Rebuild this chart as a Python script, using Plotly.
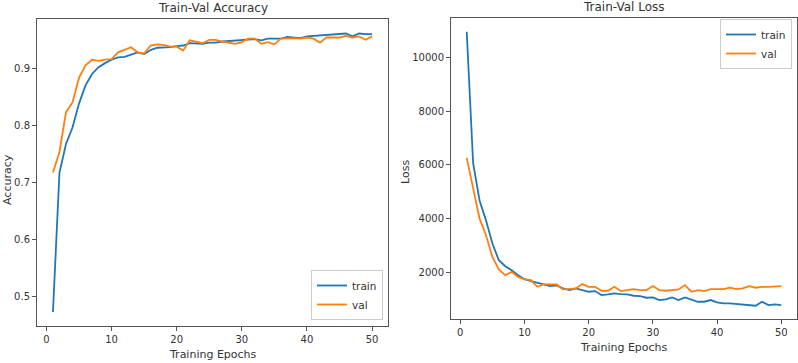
import plotly.graph_objects as go

epochs = list(range(1, 51))

train_acc = [0.472, 0.717, 0.767, 0.796, 0.838, 0.870, 0.890, 0.902, 0.909, 0.915,
             0.919, 0.920, 0.924, 0.928, 0.925, 0.932, 0.936, 0.936, 0.937, 0.939,
             0.940, 0.944, 0.944, 0.943, 0.945, 0.945, 0.947, 0.948, 0.949, 0.949,
             0.951, 0.951, 0.949, 0.952, 0.952, 0.952, 0.955, 0.954, 0.953, 0.956,
             0.957, 0.958, 0.958, 0.959, 0.960, 0.961, 0.956, 0.961, 0.960, 0.960]
val_acc = [0.717, 0.753, 0.823, 0.840, 0.883, 0.905, 0.915, 0.913, 0.915, 0.916,
           0.928, 0.932, 0.937, 0.928, 0.926, 0.940, 0.942, 0.941, 0.938, 0.938,
           0.931, 0.949, 0.946, 0.944, 0.950, 0.950, 0.947, 0.945, 0.943, 0.946,
           0.952, 0.952, 0.943, 0.946, 0.942, 0.952, 0.953, 0.953, 0.952, 0.954,
           0.952, 0.945, 0.954, 0.954, 0.954, 0.957, 0.954, 0.956, 0.950, 0.956]

train_loss = [10950, 6050, 4678, 3937, 3074, 2456, 2233, 2085, 1900, 1752,
              1678, 1630, 1555, 1493, 1518, 1407, 1345, 1407, 1345, 1283,
              1308, 1160, 1185, 1222, 1197, 1185, 1135, 1123, 1061, 1074,
              974, 999, 1074, 974, 1074, 999, 912, 912, 974, 887,
              850, 850, 825, 813, 763, 763, 912, 788, 813, 788]
val_loss = [6260, 5111, 4000, 3382, 2578, 2111, 1900, 2022, 1837, 1740,
            1715, 1467, 1555, 1555, 1555, 1370, 1382, 1407, 1567, 1467,
            1467, 1320, 1320, 1467, 1308, 1345, 1382, 1345, 1345, 1493,
            1345, 1320, 1345, 1370, 1530, 1283, 1345, 1308, 1382, 1382,
            1382, 1432, 1382, 1407, 1493, 1432, 1467, 1467, 1493, 1493]

x_ticks = [0, 10, 20, 30, 40, 50]
acc_ticks = [0.5, 0.6, 0.7, 0.8, 0.9]
loss_ticks = [2000, 4000, 6000, 8000, 10000]

BLUE = "#1f77b4"
ORANGE = "#ff7f0e"
FONT = "DejaVu Sans"
TXT = "#333"

fig = go.Figure()
fig.add_trace(go.Scatter(x=epochs, y=train_acc, mode="lines", name="train",
                         line=dict(color=BLUE, width=1.8), xaxis="x", yaxis="y",
                         legend="legend"))
fig.add_trace(go.Scatter(x=epochs, y=val_acc, mode="lines", name="val",
                         line=dict(color=ORANGE, width=1.8), xaxis="x", yaxis="y",
                         legend="legend"))
fig.add_trace(go.Scatter(x=epochs, y=train_loss, mode="lines", name="train",
                         line=dict(color=BLUE, width=1.8), xaxis="x2", yaxis="y2",
                         legend="legend2"))
fig.add_trace(go.Scatter(x=epochs, y=val_loss, mode="lines", name="val",
                         line=dict(color=ORANGE, width=1.8), xaxis="x2", yaxis="y2",
                         legend="legend2"))

axis_common = dict(showline=True, mirror=True, linecolor="#555", linewidth=1,
                   ticks="outside", ticklen=4, tickcolor="#555", showgrid=False,
                   zeroline=False, tickfont=dict(size=10, color=TXT, family=FONT))

L = (37, 388, 19, 326)   # left axes: x0, x1, y0, y1 in px
R = (451, 797, 18, 319)  # right axes

def px_x(v):
    return v / 798

def px_y(v):
    return 1 - v / 363

fig.update_layout(
    width=798, height=363,
    margin=dict(l=0, r=0, t=0, b=0),
    plot_bgcolor="white", paper_bgcolor="white",
    font=dict(family=FONT, color=TXT, size=10),
    xaxis=dict(domain=[px_x(L[0]), px_x(L[1])], range=[-1.45, 52.45], tickvals=x_ticks,
               anchor="y", **axis_common),
    yaxis=dict(domain=[px_y(L[3]), px_y(L[2])], range=[0.4475, 0.9865],
               tickvals=acc_ticks, ticktext=[f"{v:.1f}" for v in acc_ticks],
               anchor="x", **axis_common),
    xaxis2=dict(domain=[px_x(R[0]), px_x(R[1])], range=[-1.45, 52.45], tickvals=x_ticks,
                anchor="y2", **axis_common),
    yaxis2=dict(domain=[px_y(R[3]), px_y(R[2])], range=[270, 11460],
                tickvals=loss_ticks, ticktext=[str(v) for v in loss_ticks],
                anchor="x2", **axis_common),
    legend=dict(x=px_x(383), y=px_y(320), xanchor="right", yanchor="bottom",
                bgcolor="white", bordercolor="#ccc", borderwidth=1,
                font=dict(size=10.5, family=FONT, color=TXT), tracegroupgap=0,
                itemwidth=30),
    legend2=dict(x=px_x(792), y=px_y(19), xanchor="right", yanchor="top",
                 bgcolor="white", bordercolor="#ccc", borderwidth=1,
                 font=dict(size=10.5, family=FONT, color=TXT), tracegroupgap=0,
                 itemwidth=30),
    annotations=[
        dict(text="Train-Val Accuracy", x=px_x((L[0] + L[1]) / 2), y=px_y(8), xref="paper", yref="paper",
             showarrow=False, font=dict(size=12, family=FONT, color=TXT), xanchor="center", yanchor="middle"),
        dict(text="Train-Val Loss", x=px_x((R[0] + R[1]) / 2), y=px_y(7), xref="paper", yref="paper",
             showarrow=False, font=dict(size=12, family=FONT, color=TXT), xanchor="center", yanchor="middle"),
        dict(text="Training Epochs", x=px_x((L[0] + L[1]) / 2), y=px_y(354), xref="paper", yref="paper",
             showarrow=False, font=dict(size=11, family=FONT, color=TXT), xanchor="center", yanchor="middle"),
        dict(text="Training Epochs", x=px_x((R[0] + R[1]) / 2), y=px_y(347), xref="paper", yref="paper",
             showarrow=False, font=dict(size=11, family=FONT, color=TXT), xanchor="center", yanchor="middle"),
        dict(text="Accuracy", x=px_x(7), y=px_y(180), xref="paper", yref="paper", textangle=-90,
             showarrow=False, font=dict(size=11, family=FONT, color=TXT), xanchor="center", yanchor="middle"),
        dict(text="Loss", x=px_x(405), y=px_y(172), xref="paper", yref="paper", textangle=-90,
             showarrow=False, font=dict(size=11, family=FONT, color=TXT), xanchor="center", yanchor="middle"),
    ],
)

fig.write_html("out.html", config={"displayModeBar": False},
               post_script="document.body.style.margin='0';document.body.style.overflow='hidden';")
